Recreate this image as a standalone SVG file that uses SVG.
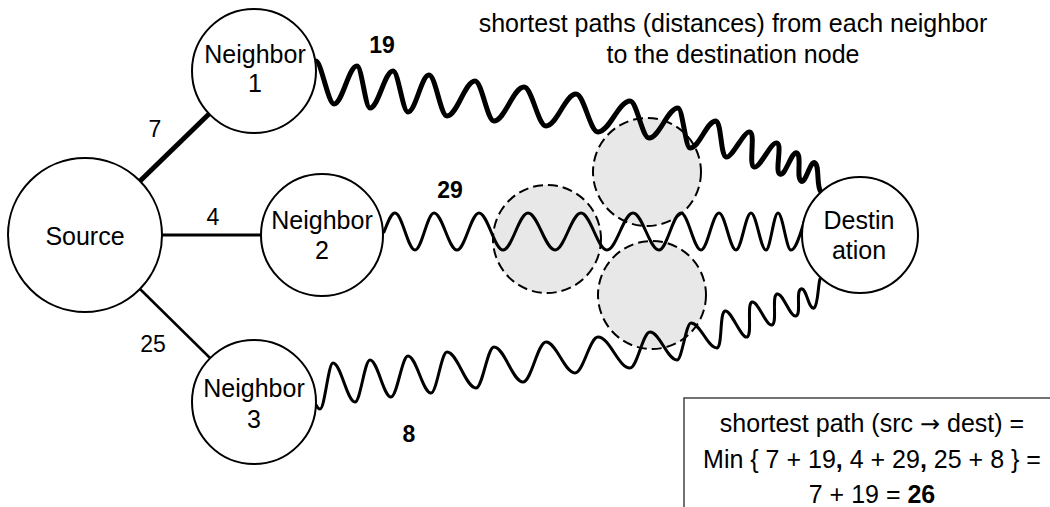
<svg xmlns="http://www.w3.org/2000/svg" width="1050" height="507" viewBox="0 0 1050 507">
<style>
text{font-family:"Liberation Sans",Arial,sans-serif;fill:#000}
.t{font-size:25px;text-anchor:middle}
.lbl{font-size:23px;text-anchor:middle}
.b{font-weight:bold}
.arr{font-family:"DejaVu Sans",sans-serif;font-size:24px}
.node{fill:#fff;stroke:#000;stroke-width:2}
.cloud{fill:#e8e8e8;stroke:#000;stroke-width:2;stroke-dasharray:10 5}
.wave{fill:none;stroke:#000;stroke-linecap:round;stroke-linejoin:round}
</style>
<rect width="1050" height="507" fill="#fff"/>
<g id="clouds">
<circle class="cloud" cx="647" cy="172" r="54"/>
<circle class="cloud" cx="547" cy="239" r="54"/>
<circle class="cloud" cx="652" cy="295" r="54"/>
</g>
<g id="connectors">
<line x1="140" y1="181" x2="210" y2="113" stroke="#000" stroke-width="5"/>
<line x1="162" y1="235" x2="261" y2="235" stroke="#000" stroke-width="3"/>
<line x1="140" y1="289" x2="210" y2="358" stroke="#000" stroke-width="2.5"/>
<path class="wave" stroke-width="5" d="M316,61 C321,61 328.2,104 334,104 C342.3,104 348.7,66 357,66 C361.7,66 365.3,108 370,108 C378.3,108 384.7,71 393,71 C398.4,71 402.6,112 408,112 C415.6,112 421.4,75 429,75 C435.5,75 440.5,116 447,116 C457,116 465,81 475,81 C481.8,81 487.2,121 494,121 C504.8,121 513.2,87 524,87 C531.9,87 538.1,126 546,126 C556.8,126 565.2,94 576,94 C583.9,94 590.1,132 598,132 C609.5,132 618.5,101 630,101 C636.8,101 642.2,138 649,138 C659.4,138 667.6,108 678,108 C682.3,108 685.7,148 690,148 C699.4,148 706.6,121 716,121 C721.6,123.2 720.4,154.8 726,157 C731.6,159.2 744.4,129.8 750,132 C755.6,134.2 748.4,164.8 754,167 C759.6,169.2 771.4,140.8 777,143 C782.6,145.2 774.4,171.8 780,174 C784.8,177.6 792.2,149.4 797,153 C801.8,156.6 796.2,177.4 801,181 C805.8,184.6 810.2,159.4 815,163 C819.8,166.6 816,186 821,192"/>
<path class="wave" stroke-width="3" d="M384,232 C388,222 391,213 395,213 C402.2,213 407.8,250 415,250 C421.8,250 427.2,213 434,213 C442.3,213 448.7,250 457,250 C464.9,250 471.1,213 479,213 C487.6,213 494.4,250 503,250 C512,250 519,213 528,213 C537.7,213 545.3,250 555,250 C564.4,250 571.6,213 581,213 C590.4,213 597.6,250 607,250 C616.4,250 623.6,213 633,213 C642.4,213 649.6,250 659,250 C666.9,250 673.1,213 681,213 C688.2,213 693.8,250 701,250 C707.5,250 712.5,213 719,213 C725.1,213 729.9,250 736,250 C741.4,250 745.6,213 751,213 C756.4,213 760.6,250 766,250 C770.3,250 773.7,213 778,213 C782.7,213 786.3,250 791,250 C795.7,250 800,235 804,222"/>
<path class="wave" stroke-width="3" d="M316,405 C317.5,408 318.5,409 320,409 C324.7,409 328.3,363 333,363 C340.9,363 347.1,402 355,402 C360.4,402 364.6,360 370,360 C377.6,360 383.4,397 391,397 C397.1,397 401.9,356 408,356 C416.3,356 422.7,393 431,393 C436.8,393 441.2,352 447,352 C457.4,352 465.6,388 476,388 C482.5,388 487.5,347 494,347 C504.4,347 512.6,382 523,382 C531.3,382 537.7,342 546,342 C556.4,342 564.6,373 575,373 C583.3,373 589.7,337 598,337 C609.5,337 618.5,368 630,368 C637.2,368 642.8,332 650,332 C659.7,332 667.3,360 677,360 C682,360 686,323 691,323 C700.4,323 707.6,348 717,348 C722.7,346.1 719.3,312.9 725,311 C730.7,309.1 741.3,338.9 747,337 C752.7,335.1 746.3,303.9 752,302 C757.7,300.1 766.3,326.9 772,325 C777.7,323.1 771.3,295.9 777,294 C782.7,292.1 790.3,317.9 796,316 C801.7,314.1 795.3,290.9 801,289 C806.7,287.1 808.3,309.9 814,308 C818,306 818,285 820,279"/>
</g>
<g id="edge-labels">
<text class="lbl" x="155" y="137">7</text>
<text class="lbl" x="213" y="225">4</text>
<text class="lbl" x="153" y="352">25</text>
<text class="lbl b" x="382" y="53">19</text>
<text class="lbl b" x="450" y="198">29</text>
<text class="lbl b" x="409" y="442">8</text>
</g>
<g id="source">
<circle class="node" cx="85" cy="235" r="77"/>
<text class="t" x="85" y="245">Source</text>
</g>
<g id="neighbor1">
<circle class="node" cx="254" cy="71" r="62"/>
<text class="t" x="255" y="63">Neighbor</text>
<text class="t" x="255" y="92">1</text>
</g>
<g id="neighbor2">
<circle class="node" cx="322" cy="235" r="61"/>
<text class="t" x="322" y="229">Neighbor</text>
<text class="t" x="322" y="259">2</text>
</g>
<g id="neighbor3">
<circle class="node" cx="254" cy="402" r="62"/>
<text class="t" x="254" y="397">Neighbor</text>
<text class="t" x="254" y="428">3</text>
</g>
<g id="destination">
<circle class="node" cx="860" cy="235" r="58"/>
<text class="t" x="859" y="229">Destin</text>
<text class="t" x="859" y="259">ation</text>
</g>
<g id="title">
<text class="t" x="733" y="32">shortest paths (distances) from each neighbor</text>
<text class="t" x="733" y="63">to the destination node</text>
</g>
<g id="formula">
<rect x="684" y="398" width="400" height="130" fill="#fff" stroke="#444" stroke-width="1.5"/>
<text class="t" x="872" y="432">shortest path (src <tspan class="arr">→</tspan> dest) =</text>
<text class="t" x="872" y="468">Min { 7 + 19<tspan class="b">,</tspan> 4 + 29<tspan class="b">,</tspan> 25 + 8 } =</text>
<text class="t" x="872" y="503">7 + 19 = <tspan class="b">26</tspan></text>
</g>
</svg>
